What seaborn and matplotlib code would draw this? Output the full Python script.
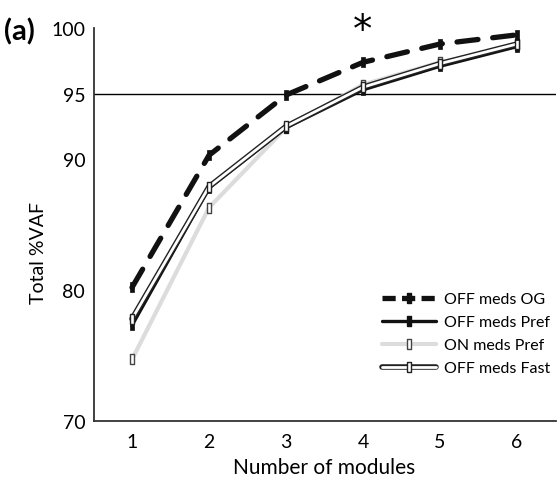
import matplotlib
matplotlib.use("Agg")
import matplotlib.pyplot as plt
from matplotlib.lines import Line2D
import seaborn as sns
import numpy as np
import pandas as pd

modules = [1, 2, 3, 4, 5, 6]
off_og = [80.2, 90.3, 94.9, 97.4, 98.8, 99.5]
off_pref = [77.3, 87.8, 92.4, 95.3, 97.1, 98.6]
on_pref = [74.7, 86.3, 92.4, 95.7, 97.4, 98.7]
off_fast = [77.8, 87.9, 92.5, 95.5, 97.3, 98.8]
series_names = ["OFF meds OG", "OFF meds Pref", "ON meds Pref", "OFF meds Fast"]
yticks = [70, 80, 90, 95, 100]

sns.set_style("white")
plt.rcParams['font.family'] = ['Lato', 'DejaVu Sans']
plt.rcParams['text.color'] = 'black'
plt.rcParams['axes.labelcolor'] = 'black'
plt.rcParams['xtick.color'] = 'black'
plt.rcParams['ytick.color'] = 'black'

rect = [(-0.45, -1), (0.45, -1), (0.45, 1), (-0.45, 1), (-0.45, -1)]

fig = plt.figure(figsize=(5.6, 4.85), dpi=100)
ax = fig.add_axes([0.167, 0.130, 0.825, 0.8096])

ax.axhline(95, color='black', lw=1.0, zorder=1)

# ON meds Pref (light gray)
sns.lineplot(x=modules, y=on_pref, ax=ax, color='#dcdcdc', lw=3, marker=rect,
             markersize=7, markerfacecolor='white', markeredgecolor='#444444',
             markeredgewidth=1, zorder=2)
# OFF meds Pref (black solid)
sns.lineplot(x=modules, y=off_pref, ax=ax, color='#111111', lw=2.4, marker=rect,
             markersize=7, markerfacecolor='#111111', markeredgecolor='#111111',
             markeredgewidth=0.5, zorder=3)
# OFF meds Fast (double line)
sns.lineplot(x=modules, y=off_fast, ax=ax, color='#222222', lw=4.0, zorder=4)
sns.lineplot(x=modules, y=off_fast, ax=ax, color='white', lw=2.0, marker=rect,
             markersize=7, markerfacecolor='white', markeredgecolor='#222222',
             markeredgewidth=1, zorder=5)
# OFF meds OG (thick dashed)
sns.lineplot(x=modules, y=off_og, ax=ax, color='#111111', lw=3.8, marker=rect,
             markersize=7, markerfacecolor='#111111', markeredgecolor='#111111',
             markeredgewidth=0.5, zorder=6)
ax.lines[-1].set_dashes([4, 2.8])
ax.lines[-1].set_dash_capstyle('round')

ax.set_xlim(0.5, 6.5)
ax.set_ylim(70, 100)
ax.set_xticks(modules)
ax.set_xticks([1.5, 2.5, 3.5, 4.5, 5.5, 6.5], minor=True)
ax.set_yticks(yticks)
ax.tick_params(axis='x', which='major', length=0, labelsize=14, pad=9)
ax.tick_params(axis='x', which='minor', length=5, width=1, direction='in', color='#333333')
ax.tick_params(axis='y', which='major', length=5, width=1, direction='in', labelsize=14,
               pad=6, color='#333333')
for s in ['top', 'right']:
    ax.spines[s].set_visible(False)
for s in ['left', 'bottom']:
    ax.spines[s].set_color('#333333')
    ax.spines[s].set_linewidth(1.3)

ax.set_xlabel("Number of modules", fontsize=15, labelpad=5)
ax.set_ylabel("Total %VAF", fontsize=14)
ax.yaxis.set_label_coords(-0.10, 0.43)

ax.text(4, 99.85, "*", ha='center', va='center', fontsize=28, family='DejaVu Sans')
fig.text(0.008, 0.935, "(a)", fontsize=21, fontweight='bold', va='center')

h_og = Line2D([], [], color='#111111', lw=3.8, dashes=[2.5, 1.2], marker=rect, markersize=7)
h_pref = Line2D([], [], color='#111111', lw=2.4, marker=rect, markersize=7)
h_on = Line2D([], [], color='#dcdcdc', lw=3, marker=rect, markersize=7,
              markerfacecolor='white', markeredgecolor='#444444')
h_fast = (Line2D([], [], color='#222222', lw=4.0),
          Line2D([], [], color='white', lw=2.0, marker=rect, markersize=7,
                 markerfacecolor='white', markeredgecolor='#222222'))
ax.legend([h_og, h_pref, h_on, h_fast], series_names, loc='lower right',
          bbox_to_anchor=(1.02, 0.08), frameon=False, fontsize=11.5, handlelength=3.4,
          labelspacing=0.55, handletextpad=0.5)

fig.savefig("out.png", dpi=100)
